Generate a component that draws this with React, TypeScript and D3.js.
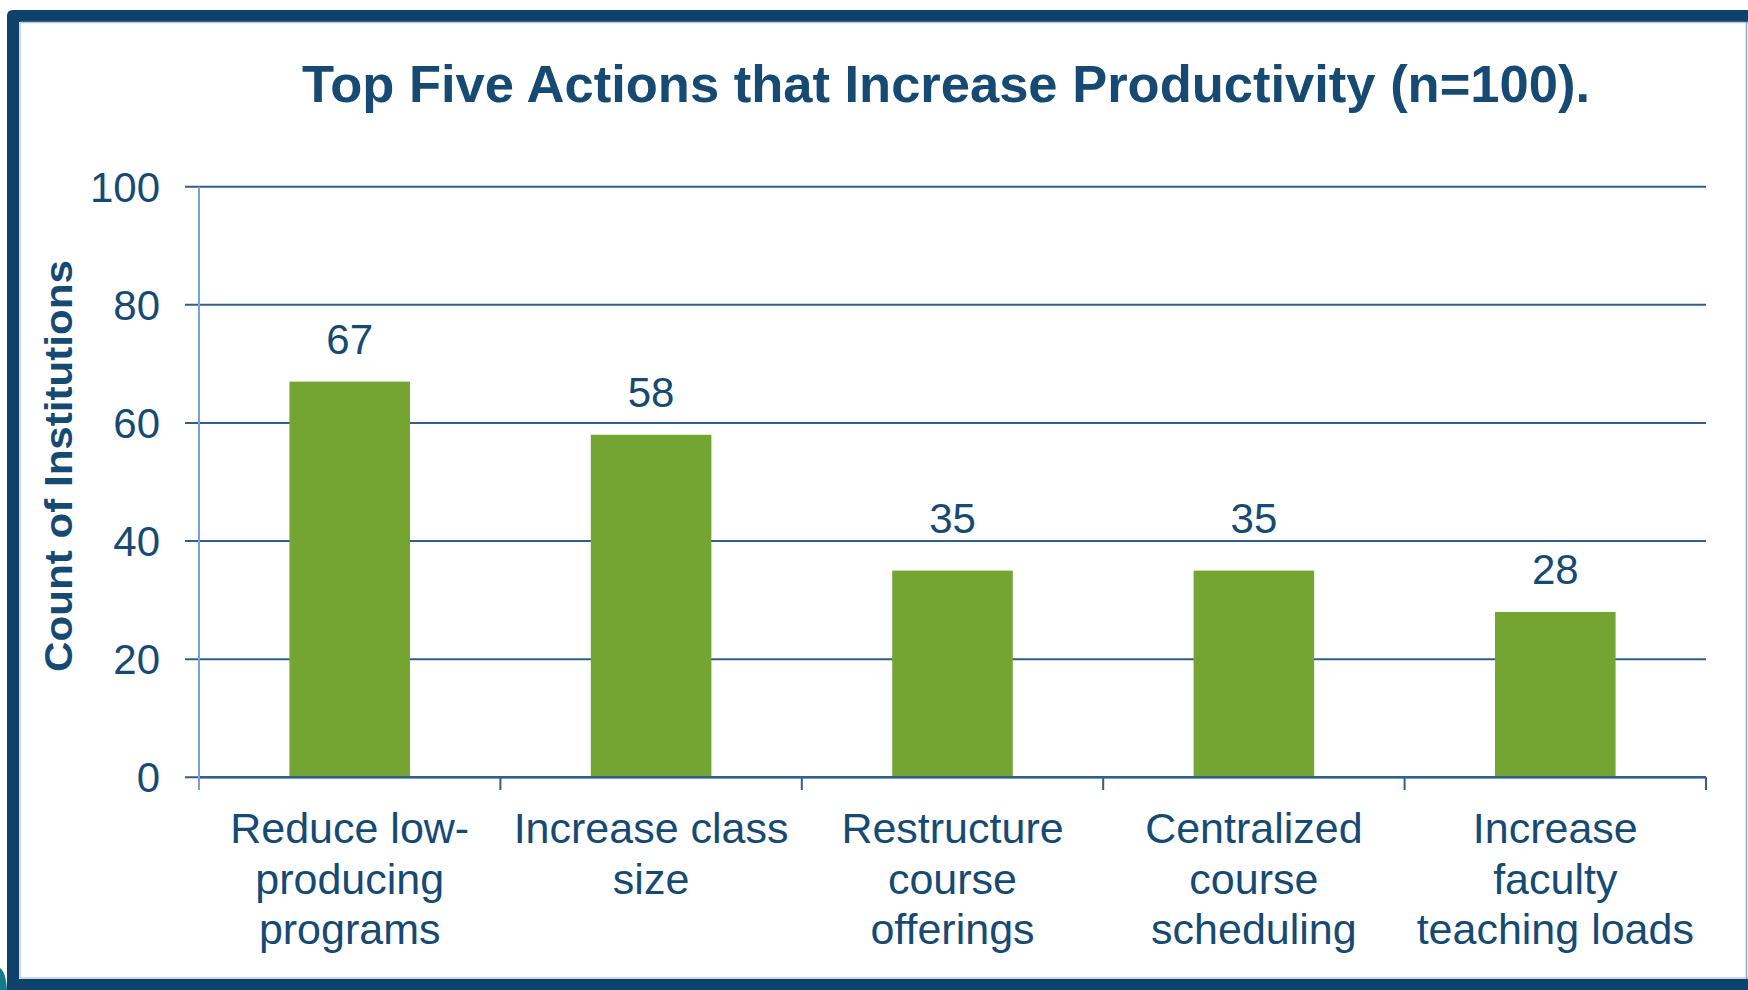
import React from "react";
import * as d3 from "d3";

const categories: string[][] = [
  ["Reduce low-", "producing", "programs"],
  ["Increase class", "size"],
  ["Restructure", "course", "offerings"],
  ["Centralized", "course", "scheduling"],
  ["Increase", "faculty", "teaching loads"],
];
const values: number[] = [67, 58, 35, 35, 28];
const yTicks: number[] = [0, 20, 40, 60, 80, 100];
const title = "Top Five Actions that Increase Productivity (n=100).";
const yTitle = "Count of Institutions";

const W = 1748;
const H = 990;
const NAVY = "#0f426b";
const TEXT = "#174a73";
const GRID = "#2f5f8c";
const YAXIS = "#7aa0d4";
const GREEN = "#74a533";
const FONT = "'Liberation Sans', Arial, Helvetica, sans-serif";

export default function App() {
  const left = 199;
  const right = 1706;
  const top = 186.7;
  const bottom = 777.3;
  const idx = categories.map((_, i) => String(i));
  const x = d3.scaleBand<string>().domain(idx).range([left, right]).padding(0);
  const y = d3.scaleLinear().domain([0, 100]).range([bottom, top]);
  const barW = x.bandwidth() * 0.4;
  const boundaries = d3.range(categories.length + 1).map((i) => left + i * x.step());

  // place value label above bar; if it would collide with a gridline, lift it above that line
  const labelBaseline = (v: number) => {
    let b = y(v) - 28;
    for (const t of yTicks) {
      const gy = y(t);
      if (gy > b - 32 && gy < b + 3) b = gy - 8.5;
    }
    return b;
  };

  return (
    <div style={{ position: "absolute", left: 0, top: 0 }}>
      <svg width={W} height={H} style={{ display: "block" }}>
        <rect x={0} y={0} width={W} height={H} fill="#ffffff" />
        {/* frame */}
        <path d="M0,968 Q6,972 7,990 L0,990 Z" fill="#127a8c" />
        <path d={`M7,990 L7,16 Q7,10 13,10 L${W},10 L${W},22 L19,22 L19,979 L${W},979 L${W},990 Z`} fill={NAVY} />
        <line x1={20} y1={22.5} x2={W} y2={22.5} stroke="#b9cbe0" strokeWidth={1.5} />
        <line x1={20} y1={23} x2={20} y2={978} stroke="#b9cbe0" strokeWidth={1.5} />
        <line x1={20} y1={978} x2={W} y2={978} stroke="#b9cbe0" strokeWidth={1.5} />
        <line x1={1746.5} y1={22} x2={1746.5} y2={979} stroke="#8fa6bf" strokeWidth={1.5} />

        {/* title */}
        <text x={946} y={102} textAnchor="middle" fontFamily={FONT} fontWeight="bold" fontSize={52.5} fill={TEXT}>
          {title}
        </text>

        {/* gridlines + y ticks */}
        {yTicks.map((t) => (
          <g key={t}>
            <line x1={185} x2={right} y1={y(t)} y2={y(t)} stroke={GRID} strokeWidth={2} />
            <text x={160} y={y(t) + 15} textAnchor="end" fontFamily={FONT} fontSize={42} fill={TEXT}>
              {t}
            </text>
          </g>
        ))}

        {/* bars */}
        {values.map((v, i) => {
          const cx = (x(String(i)) as number) + x.bandwidth() / 2;
          return (
            <g key={i}>
              <rect x={cx - barW / 2} y={y(v)} width={barW} height={bottom - y(v)} fill={GREEN} />
              <text x={cx} y={labelBaseline(v)} textAnchor="middle" fontFamily={FONT} fontSize={42} fill={TEXT}>
                {v}
              </text>
            </g>
          );
        })}

        {/* x axis */}
        <line x1={left} x2={right} y1={bottom} y2={bottom} stroke={GRID} strokeWidth={2.5} />
        {boundaries.map((bx, i) => (
          <line key={i} x1={bx} x2={bx} y1={bottom} y2={790} stroke={i === 0 ? YAXIS : GRID} strokeWidth={2} />
        ))}
        {/* y axis */}
        <line x1={left} x2={left} y1={top} y2={790} stroke={YAXIS} strokeWidth={2} />

        {/* category labels */}
        {categories.map((lines, i) => {
          const cx = (x(String(i)) as number) + x.bandwidth() / 2;
          return (
            <text key={i} textAnchor="middle" fontFamily={FONT} fontSize={43} fill={TEXT}>
              {lines.map((ln, j) => (
                <tspan key={j} x={cx} y={843 + j * 50.5}>
                  {ln}
                </tspan>
              ))}
            </text>
          );
        })}

        {/* y title */}
        <text
          transform="translate(72,466) rotate(-90)"
          textAnchor="middle"
          fontFamily={FONT}
          fontWeight="bold"
          fontSize={39}
          fill={TEXT}
          textLength={412}
          lengthAdjust="spacingAndGlyphs"
        >
          {yTitle}
        </text>
      </svg>
    </div>
  );
}
